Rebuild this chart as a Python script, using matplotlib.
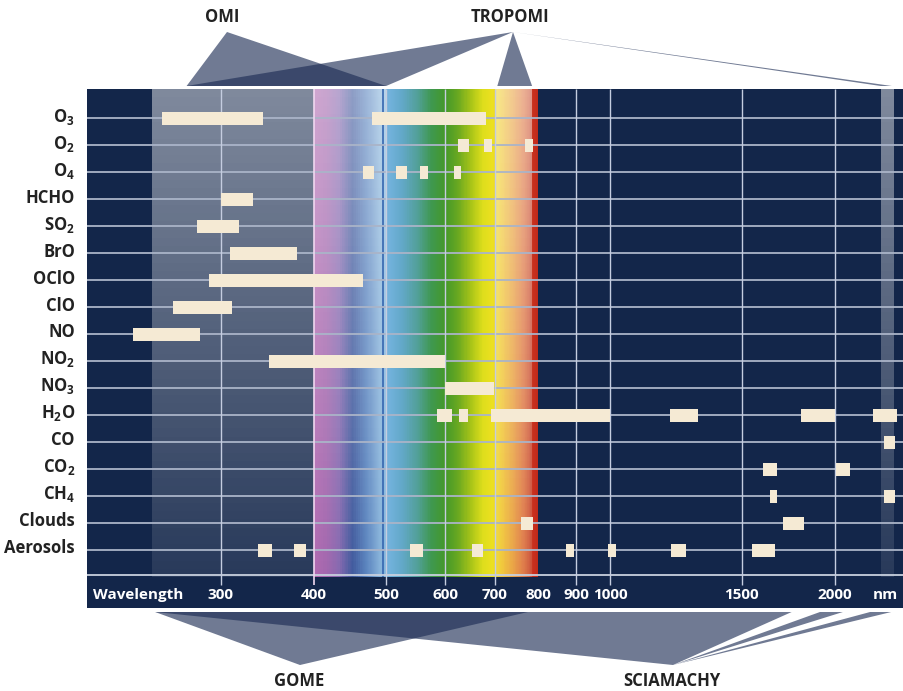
import numpy as np
import matplotlib.pyplot as plt
from matplotlib.colors import LinearSegmentedColormap, Normalize
from matplotlib.patches import Polygon

plt.rcParams['font.family'] = ['Open Sans', 'DejaVu Sans']
plt.rcParams['mathtext.fontset'] = 'custom'
plt.rcParams['mathtext.rm'] = 'Open Sans:bold'
plt.rcParams['mathtext.default'] = 'rm'

# species (rows, top to bottom) and their absorption / retrieval windows in nm
species = ['O$_3$', 'O$_2$', 'O$_4$', 'HCHO', 'SO$_2$', 'BrO', 'OClO', 'ClO', 'NO',
           'NO$_2$', 'NO$_3$', 'H$_2$O', 'CO', 'CO$_2$', 'CH$_4$', 'Clouds', 'Aerosols']
bands = [
    [(250, 342), (478, 680)],
    [(625, 645), (676, 694), (768, 788)],
    [(466, 482), (516, 534), (556, 570), (616, 631)],
    [(300, 331)],
    [(279, 317)],
    [(309, 380)],
    [(289, 465)],
    [(259, 311)],
    [(229, 281)],
    [(348, 600)],
    [(600, 697)],
    [(586, 613), (627, 643), (692, 1000), (1202, 1311), (1800, 2000), (2247, 2420)],
    [(2325, 2405)],
    [(1602, 1672), (2004, 2094)],
    [(1635, 1672), (2331, 2405)],
    [(759, 788), (1704, 1817)],
    [(337, 351), (376, 391), (538, 560), (651, 675), (871, 894), (993, 1016), (1205, 1263), (1549, 1662)],
]

ticks = [300, 400, 500, 600, 700, 800, 900, 1000, 1500, 2000]
grid_nm = [300, 500, 600, 700, 900, 1000, 1500, 2000]

# instrument spectral ranges
omi = [(270, 500)]
tropomi = [(270, 500), (705, 785), (2305, 2385)]
gome = [(245, 775)]
sciamachy = [(245, 1750), (1910, 2050), (2230, 2380)]

# highlighted (lighter) wavelength windows
light_bands = [(243, 500), (700, 785), (2305, 2400)]

# visible spectrum colours
spec_nm = [400, 415, 432, 450, 470, 490, 505, 525, 550, 575, 600, 625, 650, 675, 695,
           715, 740, 765, 782, 787, 800]
spec_col = ['#a85aa8', '#9a58a6', '#7a5aa8', '#2e4a94', '#4a78b8', '#7aaad6', '#72b2dc',
            '#62a8c8', '#52a09a', '#3f9850', '#44982a', '#6aa820', '#a8c418', '#dede1c',
            '#ece020', '#f0c428', '#e89c34', '#dc7038', '#c8482a', '#c8301e', '#c02a1a']

W, H = 904, 691
navy = '#13264a'
ytop, ybot, yspec = -1.085, 18.14, 17.0

fig = plt.figure(figsize=(W / 100, H / 100), dpi=100)
ax = fig.add_axes([87 / W, (H - 608) / H, 817 / W, 519 / H])
ax.set_facecolor(navy)
ax.set_xscale('log')
ax.set_xlim(198.5, 2476)
ax.set_ylim(ybot, ytop)
ax.set_xticks([])
ax.set_yticks([])
ax.minorticks_off()
for s in ax.spines.values():
    s.set_visible(False)

# spectrum
pos = [(v - spec_nm[0]) / (spec_nm[-1] - spec_nm[0]) for v in spec_nm]
cmap = LinearSegmentedColormap.from_list('vis', list(zip(pos, spec_col)))
xe = np.linspace(400, 800, 401)
xc = (xe[:-1] + xe[1:]) / 2
ax.pcolormesh(xe, [ytop, yspec], xc[None, :], cmap=cmap,
              norm=Normalize(400, 800), shading='flat', zorder=1)

# light overlay, fading towards the bottom
ocmap = LinearSegmentedColormap.from_list('ov', [(1, 1, 1, 0.46), (1, 1, 1, 0.09)])
ye = np.linspace(ytop, yspec, 60)
yc = (ye[:-1] + ye[1:]) / 2
for lo, hi in light_bands:
    ax.pcolormesh([lo, hi], ye, yc[:, None], cmap=ocmap,
                  norm=Normalize(ytop, yspec), shading='flat', zorder=2)
ax.vlines(496, ytop, yspec, color='#3566b0', lw=1.2, zorder=2.5)

# grid
ax.hlines(np.arange(len(species)), 198.5, 2476, color='#aab4c8', lw=1.3, zorder=3)
ax.hlines(16.92, 198.5, 2476, color='#c8d0de', lw=1.3, zorder=3)
ax.vlines(grid_nm, ytop, 17.3, color='#c5cde0', lw=1.0, zorder=3)
ax.vlines(400, ytop, 17.3, color='#f0d8f0', lw=1.2, zorder=3)

# bars
for i, bl in enumerate(bands):
    for lo, hi in bl:
        ax.barh(i, hi - lo, left=lo, height=0.47, color='#f5ead4', lw=0, zorder=5)

# row labels
lab_tr = ax.get_yaxis_transform()
for i, name in enumerate(species):
    ax.text(-12 / 817, i + 0.12, name, transform=lab_tr, ha='right', va='baseline',
            fontsize=12, fontweight='bold', color='#222222', clip_on=False)

# wavelength strip labels
ax.text(6 / 817, 17.8, 'Wavelength', transform=lab_tr, ha='left', va='baseline',
        fontsize=11, fontweight='bold', color='white')
for t in ticks:
    ax.text(t, 17.8, str(t), ha='center', va='baseline', fontsize=11,
            fontweight='bold', color='white')
ax.text(798 / 817, 17.8, 'nm', transform=lab_tr, ha='center', va='baseline',
        fontsize=11, fontweight='bold', color='white')

# instrument fans
ov = fig.add_axes([0, 0, 1, 1], zorder=5)
ov.set_xlim(0, W)
ov.set_ylim(H, 0)
ov.axis('off')


def xpix(nm):
    return ax.transData.transform((nm, 0))[0]


def fan(apex, rng, base_y):
    for lo, hi in rng:
        ov.add_patch(Polygon([apex, (xpix(lo), base_y), (xpix(hi), base_y)], closed=True,
                             fc='#1c2c54', alpha=0.63, ec='none'))


fan((227, 32), omi, 86)
fan((513, 32), tropomi, 86)
fan((300, 665), gome, 612)
fan((673, 665), sciamachy, 612)

for x, y, s in [(222, 22, 'OMI'), (510, 22, 'TROPOMI'), (299, 686, 'GOME'), (672, 686, 'SCIAMACHY')]:
    ov.text(x, y, s, ha='center', va='baseline', fontsize=12, fontweight='bold', color='#222222')

fig.savefig('out.png', dpi=100)
